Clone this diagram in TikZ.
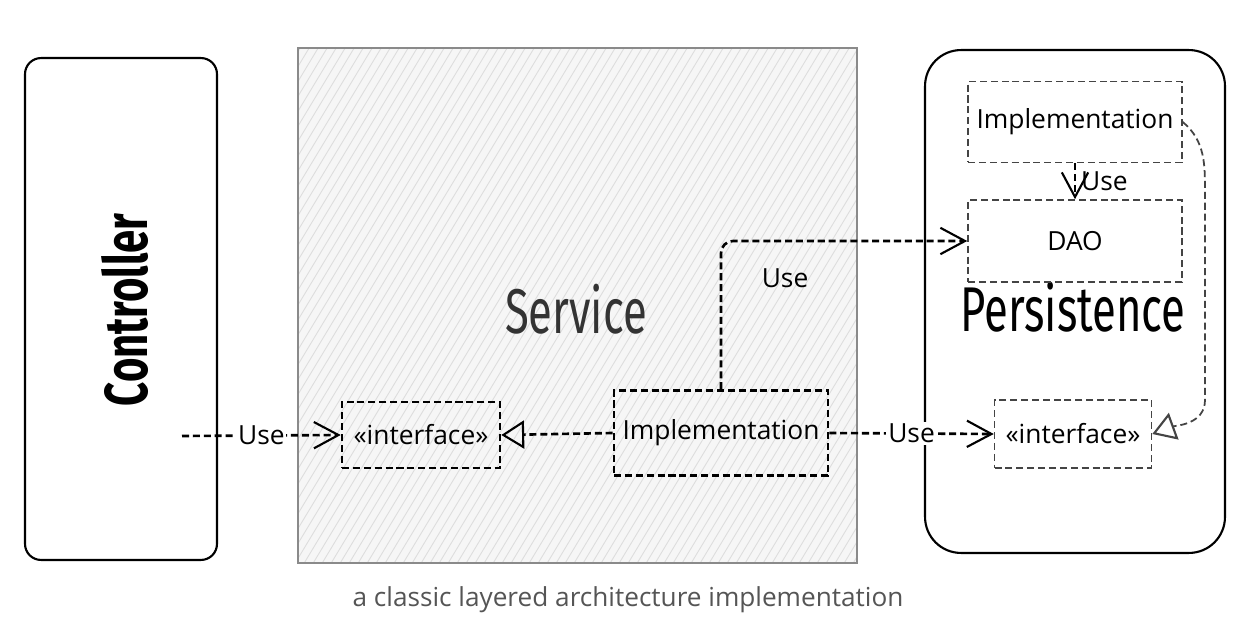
\documentclass[tikz,border=0pt]{standalone}
\usepackage{fontspec}
\setmainfont{Open Sans}
\newfontfamily\layerfont[FakeStretch=0.69]{Fira Sans}
\usetikzlibrary{arrows.meta,positioning,calc}
\definecolor{sketchgray}{HTML}{8A8A8A}
\definecolor{hatchgray}{HTML}{DDDDDD}
\definecolor{svcfill}{HTML}{F6F6F6}
\definecolor{titlegray}{HTML}{333333}
\definecolor{captiongray}{HTML}{555555}
\definecolor{persgray}{HTML}{444444}

\begin{document}
\begin{tikzpicture}[
    x=0.02cm,y=-0.02cm,
    layer/.style   = {draw=black,line width=1.2pt,inner sep=0pt,outer sep=0pt},
    svcbox/.style  = {fill=svcfill,inner sep=0pt,outer sep=0pt,
                      minimum width=11.18cm,minimum height=10.3cm},
    hatch/.style   = {hatchgray,line width=0.5pt},
    title/.style   = {font=\layerfont\fontsize{36}{40}\selectfont},
    unit/.style    = {draw=black,line width=1.5pt,dash pattern=on 4pt off 2.2pt,
                      inner sep=0pt,font=\fontsize{15}{18}\selectfont},
    punit/.style   = {unit,draw=persgray,line width=0.9pt},
    lbl/.style     = {font=\fontsize{15}{18}\selectfont,inner sep=1pt},
    use/.style     = {line width=1.5pt,dash pattern=on 4pt off 2.2pt,
                      -{Straight Barb[length=14pt,width=15pt,line width=1.2pt]}},
    realize/.style = {line width=1.5pt,dash pattern=on 4pt off 2.2pt,
                      -{Triangle[open,length=13pt,width=16pt,line width=1.2pt]}},
  ]
  \useasboundingbox[fill=white] (0,0) rectangle (1260,638);

  % Controller
  \node[layer,rounded corners=0.32cm,minimum width=3.84cm,minimum height=10.04cm]
       (ctrlbox) at (121,309) {};
  \node[title,font=\layerfont\bfseries\fontsize{34.5}{40}\selectfont,rotate=90]
       (ctrl) at (125,310) {Controller};
  \coordinate (ctrlout) at (182,436);

  % Service
  \node[svcbox] (svc) at (577.5,305.5) {};
  \begin{scope}
    \clip (svc.south west) rectangle (svc.north east);
    \foreach \x in {-330,-321,...,870}
      \draw[hatch] (\x,570) -- ++(320,-530);
  \end{scope}
  \draw[sketchgray,line width=1.5pt] (svc.south west) rectangle (svc.north east);
  \node[title,text=titlegray] (svct) at (576,309) {Service};

  \node[unit,minimum width=3.16cm,minimum height=1.32cm] (sif) at (421,435)
       {«interface»};
  \node[unit,minimum width=4.28cm,minimum height=1.7cm] (simpl) at (721,433)
       {Implementation};

  % Persistence
  \node[layer,rounded corners=0.72cm,minimum width=6cm,minimum height=10.06cm]
       (persbox) at (1075,301.5) {};
  \node[title] (perst) at (1073,307) {Persistence};

  \node[punit,minimum width=4.28cm,minimum height=1.62cm] (pimpl) at (1075,122)
       {Implementation};
  \node[punit,minimum width=4.28cm,minimum height=1.64cm] (dao) at (1075,241)
       {DAO};
  \node[punit,minimum width=3.14cm,minimum height=1.36cm] (pif) at (1073,434)
       {«interface»};

  % Abhaengigkeiten
  \draw[use] (ctrlout) -- node[lbl,fill=white] {Use} (sif.west);
  \draw[realize] (simpl.west) -- (sif.east);
  \draw[use,rounded corners=0.24cm] (simpl.north) |- (dao.west)
       node[lbl,pos=0.63,below=0.5cm] {Use};
  \draw[use] (simpl.east) -- node[lbl,fill=white] {Use} (pif.west);
  \draw[use,line width=1pt] (pimpl.south) -- node[lbl,right=2pt] {Use} (dao.north);
  \draw[realize,line width=1pt,persgray] (pimpl.east) to[out=-40,in=90] (1205,195)
       -- (1205,400) to[out=-90,in=20] (pif.east);

  % Legende
  \node[font=\fontsize{14.9}{18}\selectfont,text=captiongray] (cap) at (628,600)
       {a classic layered architecture implementation};

\end{tikzpicture}
\end{document}
